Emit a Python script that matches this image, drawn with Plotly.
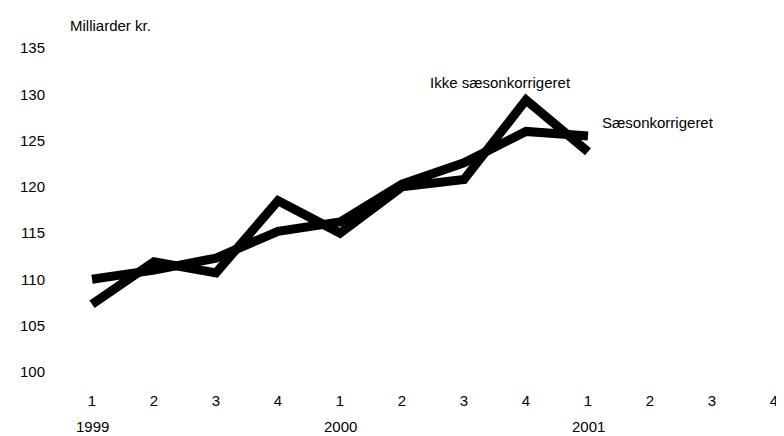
import plotly.graph_objects as go

quarter_labels = ["1", "2", "3", "4", "1", "2", "3", "4", "1", "2", "3", "4"]
year_labels = ["1999", "2000", "2001"]
year_positions = [0, 4, 8]
ikke_saeson = [107.3, 111.9, 110.7, 118.5, 115.0, 120.0, 120.8, 129.4, 123.8]
saeson = [110.0, 111.0, 112.3, 115.2, 116.2, 120.3, 122.6, 126.0, 125.5]
y_ticks = [100, 105, 110, 115, 120, 125, 130, 135]

FONT = "Liberation Sans, Arial, sans-serif"
fs = 15

x_idx = list(range(len(ikke_saeson)))

fig = go.Figure()
fig.add_trace(go.Scatter(x=x_idx, y=ikke_saeson, mode="lines",
                         line=dict(color="black", width=9), name="Ikke sæsonkorrigeret"))
fig.add_trace(go.Scatter(x=x_idx, y=saeson, mode="lines",
                         line=dict(color="black", width=9), name="Sæsonkorrigeret"))

# page has an 8px body margin, so the figure is shifted by 8px right/down
fig.update_layout(
    width=776, height=428,
    margin=dict(l=53, r=6, t=31, b=55),
    paper_bgcolor="white", plot_bgcolor="white",
    showlegend=False,
    font=dict(family=FONT, size=fs, color="black"),
    xaxis=dict(range=[-0.5, 11], tickmode="array", tickvals=list(range(12)),
               ticktext=quarter_labels, showgrid=False, zeroline=False,
               showline=False, ticks="outside", ticklen=6, tickcolor="white",
               tickfont=dict(family=FONT, size=fs)),
    yaxis=dict(range=[99, 136], tickmode="array", tickvals=y_ticks,
               showgrid=False, zeroline=False, showline=False,
               ticks="outside", ticklen=12, tickcolor="white",
               tickfont=dict(family=FONT, size=fs)),
)

for yr, pos in zip(year_labels, year_positions):
    fig.add_annotation(x=pos, y=0, xref="x", yref="paper", text=yr,
                       showarrow=False, xanchor="center", yanchor="middle",
                       yshift=-45, font=dict(family=FONT, size=fs))

fig.add_annotation(x=0, y=1, xref="paper", yref="paper", text="Milliarder kr.",
                   showarrow=False, xanchor="left", yanchor="middle",
                   xshift=7, yshift=14, font=dict(family=FONT, size=fs))

fig.add_annotation(x=6.59, y=131.3, xref="x", yref="y", text="Ikke sæsonkorrigeret",
                   showarrow=False, xanchor="center", yanchor="middle",
                   font=dict(family=FONT, size=fs))
fig.add_annotation(x=8.19, y=127.0, xref="x", yref="y", text="Sæsonkorrigeret",
                   showarrow=False, xanchor="left", yanchor="middle",
                   font=dict(family=FONT, size=fs))

fig.write_html("out.html")
